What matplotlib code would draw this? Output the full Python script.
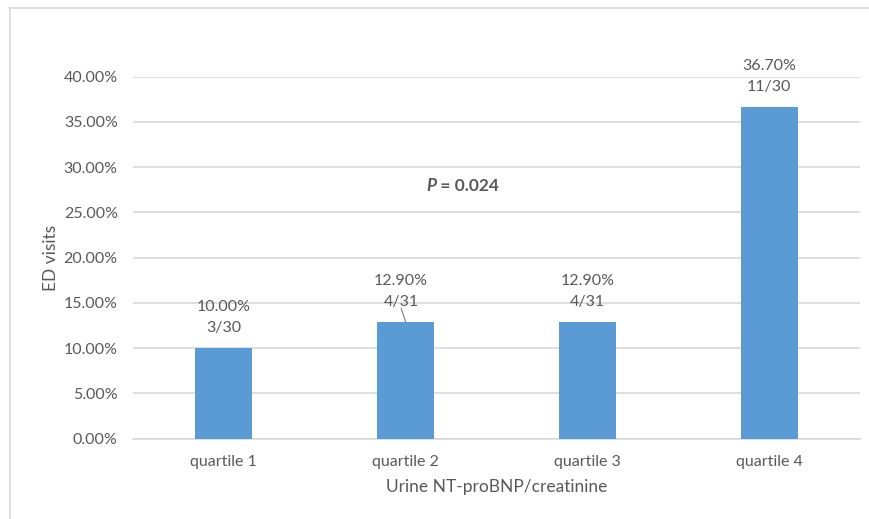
import matplotlib
matplotlib.use("Agg")
import matplotlib.pyplot as plt
from matplotlib.lines import Line2D
from matplotlib.ticker import MultipleLocator, FuncFormatter

# ED visit rate by urine NT-proBNP/creatinine quartile
categories = ["quartile 1", "quartile 2", "quartile 3", "quartile 4"]
rates = [10.0, 12.9, 12.9, 36.7]          # percent
counts = ["3/30", "4/31", "4/31", "11/30"]
p_value = "0.024"

TEXT = "#595959"
GRID = "#d9d9d9"
BAR = "#5b9bd5"
FONT = ["Lato", "DejaVu Sans"]

plt.rcParams["font.family"] = FONT

W, H = 869, 519
fig = plt.figure(figsize=(W / 100, H / 100), dpi=100)

# outer chart frame
fig.add_artist(Line2D([9.5 / W, 9.5 / W], [0, 1 - 8.3 / H], color=GRID, lw=1.2,
                      transform=fig.transFigure))
fig.add_artist(Line2D([9.5 / W, 1], [1 - 8.3 / H, 1 - 8.3 / H], color=GRID, lw=1.2,
                      transform=fig.transFigure))

left, right = 133 / W, 860 / W
bottom, top = 1 - 438.7 / H, 1 - 76.7 / H
ax = fig.add_axes([left, bottom, right - left, top - bottom])

x = list(range(len(categories)))
ax.bar(x, rates, width=0.314, color=BAR, zorder=3)

ax.set_xlim(-0.5, len(categories) - 0.5)
ax.set_ylim(0, 40)
ax.yaxis.set_major_locator(MultipleLocator(5))
ax.yaxis.set_major_formatter(FuncFormatter(lambda v, _: f"{v:.2f}%"))
ax.grid(axis="y", color=GRID, lw=1.2, zorder=0)
ax.set_axisbelow(True)
for s in ["top", "right", "left"]:
    ax.spines[s].set_visible(False)
ax.spines["bottom"].set_color(GRID)
ax.spines["bottom"].set_linewidth(1.2)
ax.tick_params(axis="both", length=0, colors=TEXT, labelsize=11.5)
ax.tick_params(axis="y", pad=11)
ax.tick_params(axis="x", pad=12)
ax.set_xticks(x)
ax.set_xticklabels(categories)

ax.set_ylabel("ED visits", color=TEXT, fontsize=12.5, labelpad=3)
ax.set_xlabel("Urine NT-proBNP/creatinine", color=TEXT, fontsize=12.5, labelpad=7)

# data labels: rate on top line, count below it
px = 72 / 100  # points per pixel
for i, (v, c) in enumerate(zip(rates, counts)):
    dx = -4.5 if i == 1 else 0
    ax.annotate(f"{v:.2f}%", xy=(i, v), xytext=(dx * px, 41 * px),
                textcoords="offset points", ha="center", va="center",
                color=TEXT, fontsize=11.5)
    ax.annotate(c, xy=(i, v), xytext=(dx * px, 20 * px),
                textcoords="offset points", ha="center", va="center",
                color=TEXT, fontsize=11.5)
    if i == 1:
        ax.annotate("", xy=(i, v), xytext=(dx * px, 14 * px),
                    textcoords="offset points",
                    arrowprops=dict(arrowstyle="-", color="#808080", lw=0.8,
                                    shrinkA=0, shrinkB=0))

# significance note: italic bold "P" followed by bold value
py = 1 - 186 / H
t_p = fig.text(426 / W, py, "P", ha="left", va="center", color=TEXT,
               fontsize=12.5, fontweight="bold", fontstyle="italic")
fig.canvas.draw()
bb = t_p.get_window_extent()
fig.text(bb.x1 / W, py, f" = {p_value}", ha="left", va="center", color=TEXT,
         fontsize=12.5, fontweight="bold")

fig.savefig("out.png", dpi=100)
